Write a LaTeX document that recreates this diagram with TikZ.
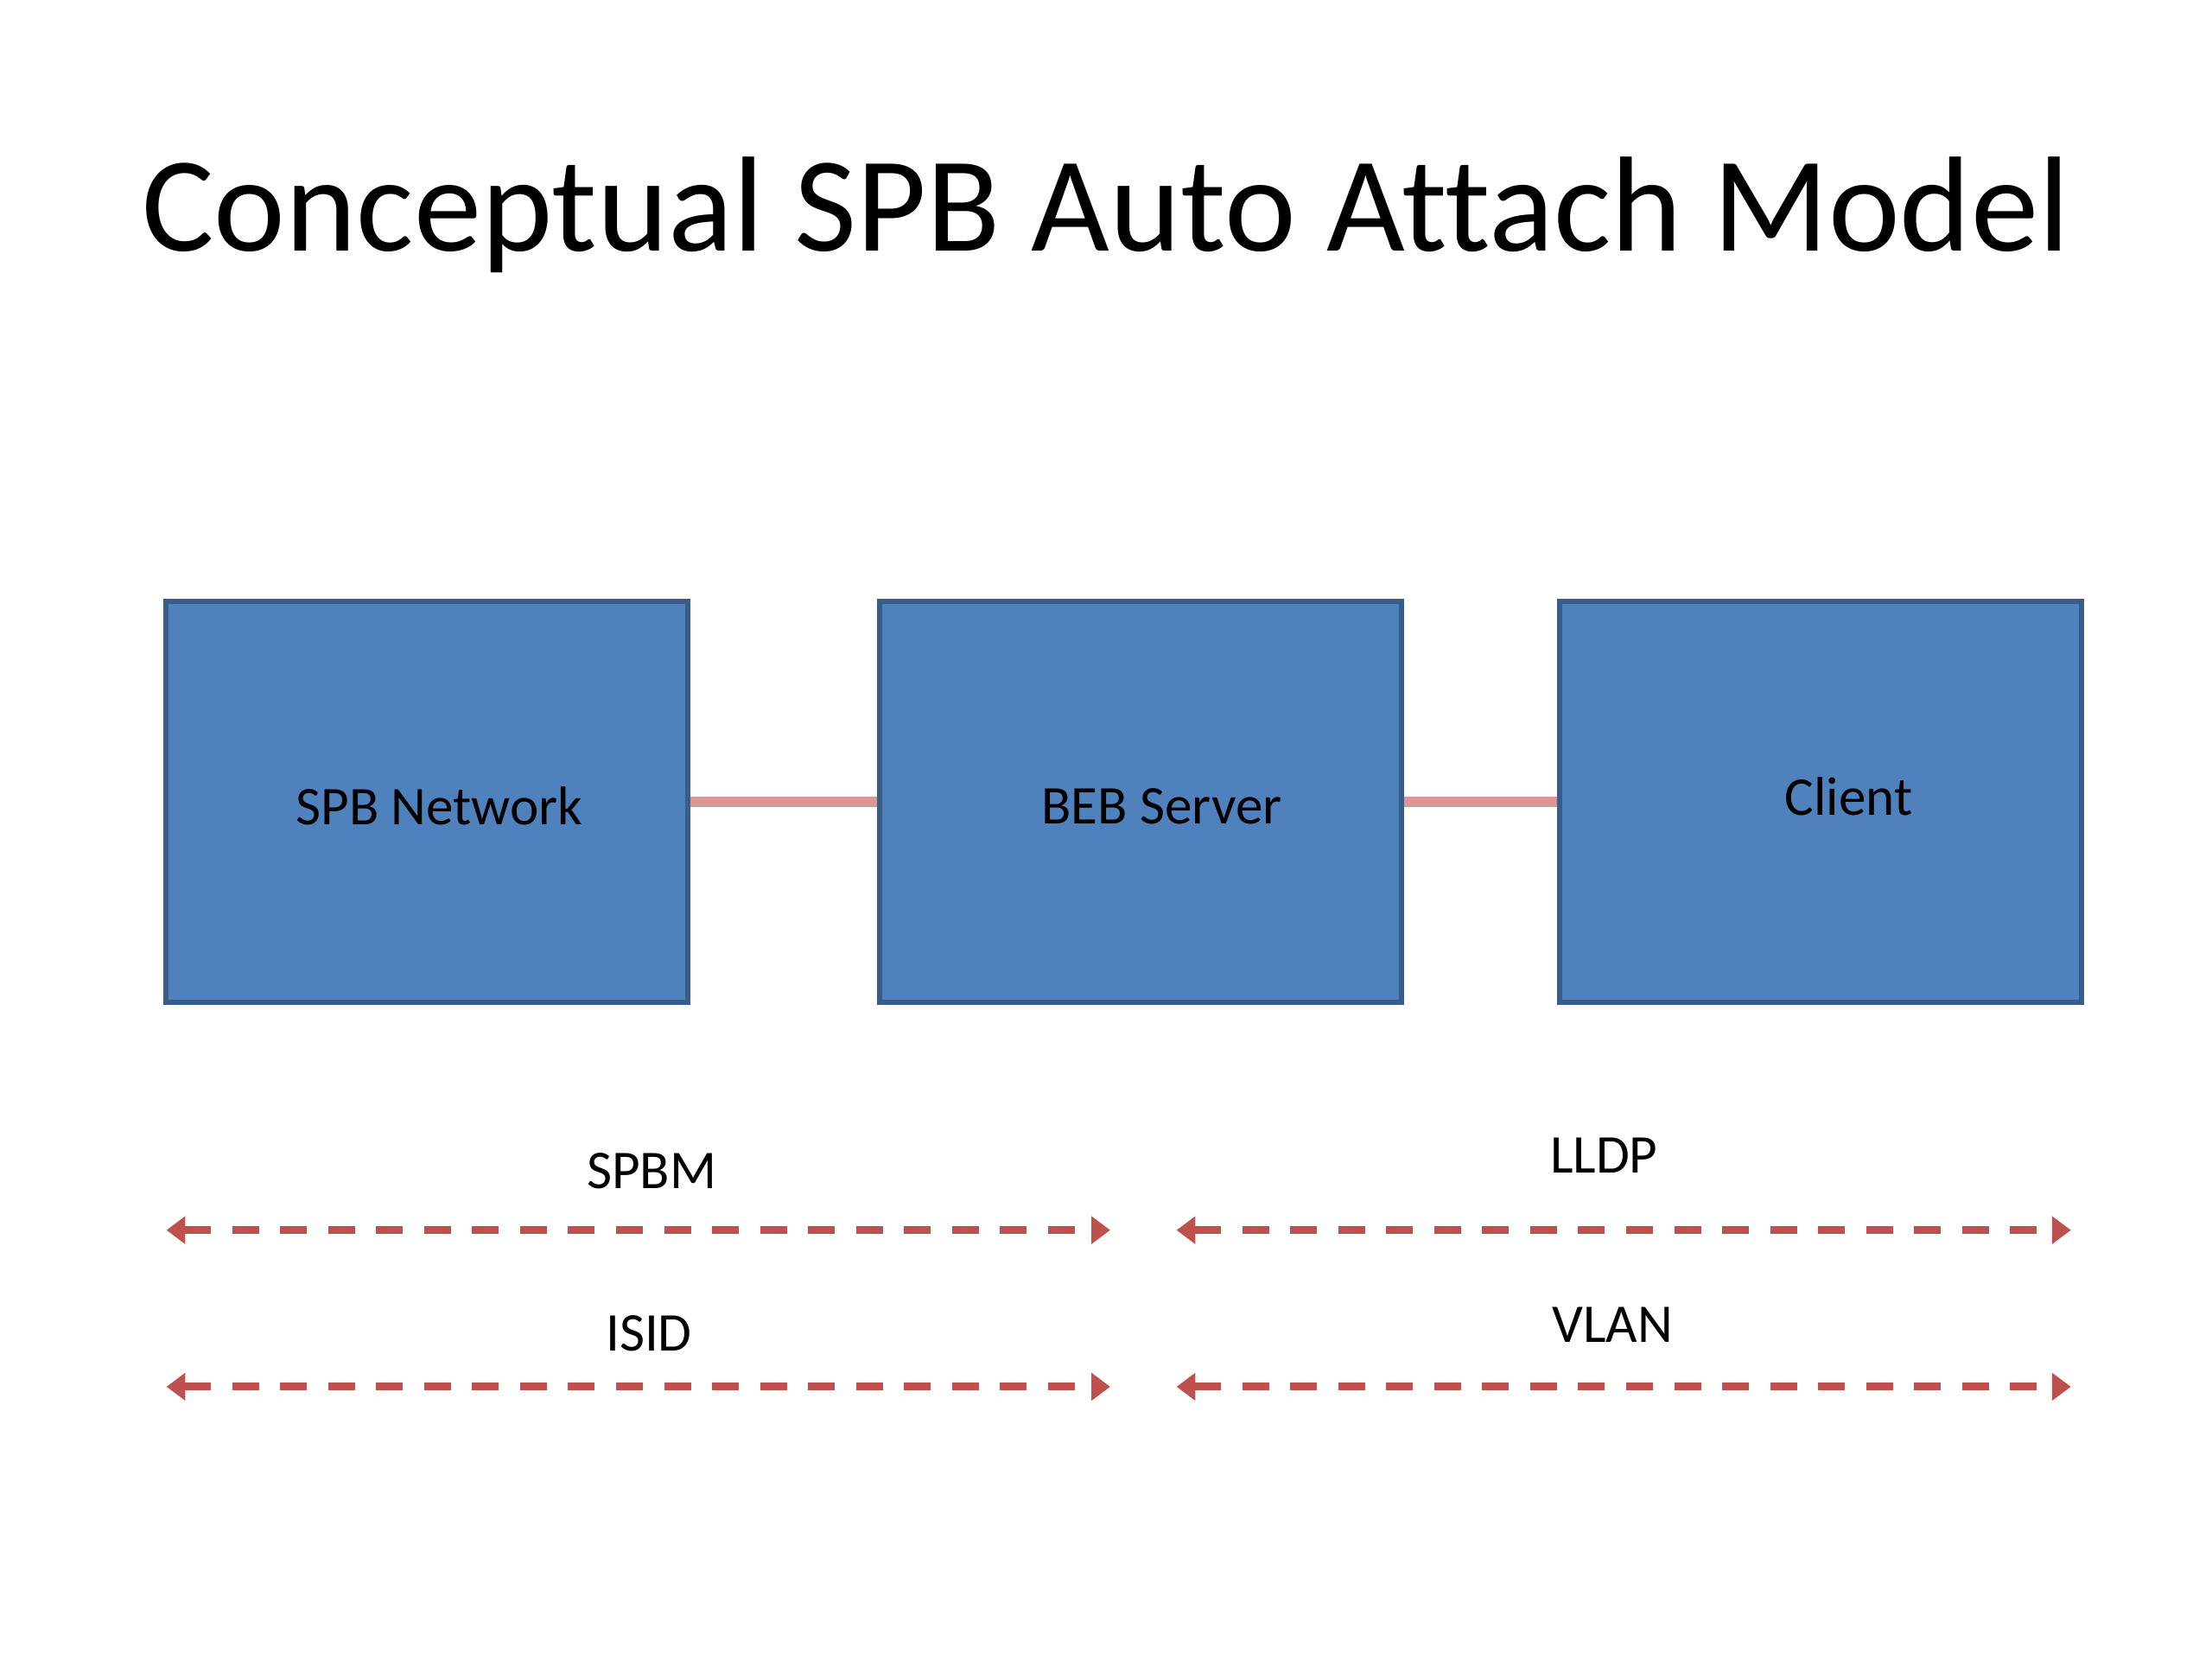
\documentclass[tikz,border=0pt]{standalone}
\usepackage{fontspec}
\setmainfont[Ligatures=NoCommon]{Carlito}
\usepackage{tikz}
\usetikzlibrary{arrows.meta, positioning, calc}
\definecolor{boxblue}{RGB}{79,129,189}
\definecolor{boxedge}{RGB}{56,93,138}
\definecolor{linkpink}{RGB}{217,150,148}
\definecolor{protored}{RGB}{192,80,77}
\tikzset{
  netbox/.style={rectangle, draw=boxedge, fill=boxblue,
    minimum width=3.70cm, minimum height=2.84cm,
    line width=1pt, inner sep=0pt},
  boxlabel/.style={font=\fontsize{11}{13}\selectfont, text=black, inner sep=0pt},
  link/.style={line width=2pt, color=linkpink},
  proto/.style={{Triangle[length=3.8pt,width=5.4pt]}-{Triangle[length=3.8pt,width=5.4pt]},
    line width=1.6pt, color=protored, dash pattern=on 0.19cm off 0.15cm},
  protolabel/.style={font=\fontsize{11}{13}\selectfont, inner sep=0pt},
  titletext/.style={font=\fontsize{27.3}{32}\selectfont, inner sep=0pt}
}
\begin{document}
\begin{tikzpicture}[x=0.01cm, y=-0.01cm]
  \useasboundingbox (0,0) rectangle (1568,1176);

  % title
  \node[titletext, anchor=base] (title) at (784,178) {Conceptual SPB Auto Attach Model};

  % boxes
  \node[netbox] (spb) at (302.5,568.5) {};
  \node[netbox] (beb) at (808.5,568.5) {};
  \node[netbox] (client) at (1290.5,568.5) {};
  \node[boxlabel] (spbtext) at ($(spb.center)+(9,3)$) {SPB Network};
  \node[boxlabel] (bebtext) at ($(beb.center)+(15,3)$) {BEB Server};
  \node[boxlabel] (clienttext) at ($(client.center)+(20,-4)$) {Client};

  % links
  \draw[link] (spb.east) -- (beb.west);
  \draw[link] (beb.east) -- (client.west);

  % protocol arrows
  \coordinate (spbmL) at (118,872);
  \coordinate (spbmR) at (787,872);
  \coordinate (lldpL) at (834,872);
  \coordinate (lldpR) at (1468,872);
  \coordinate (isidL) at (118,983);
  \coordinate (isidR) at (787,983);
  \coordinate (vlanL) at (834,983);
  \coordinate (vlanR) at (1468,983);
  \draw[proto] (spbmL) -- (spbmR);
  \draw[proto] (lldpL) -- (lldpR);
  \draw[proto] (isidL) -- (isidR);
  \draw[proto] (vlanL) -- (vlanR);

  \node[protolabel] (spbm) at (462,830) {SPBM};
  \node[protolabel] (lldp) at (1137,819) {LLDP};
  \node[protolabel] (isid) at (460,945) {ISID};
  \node[protolabel] (vlan) at (1143,939) {VLAN};
\end{tikzpicture}
\end{document}
